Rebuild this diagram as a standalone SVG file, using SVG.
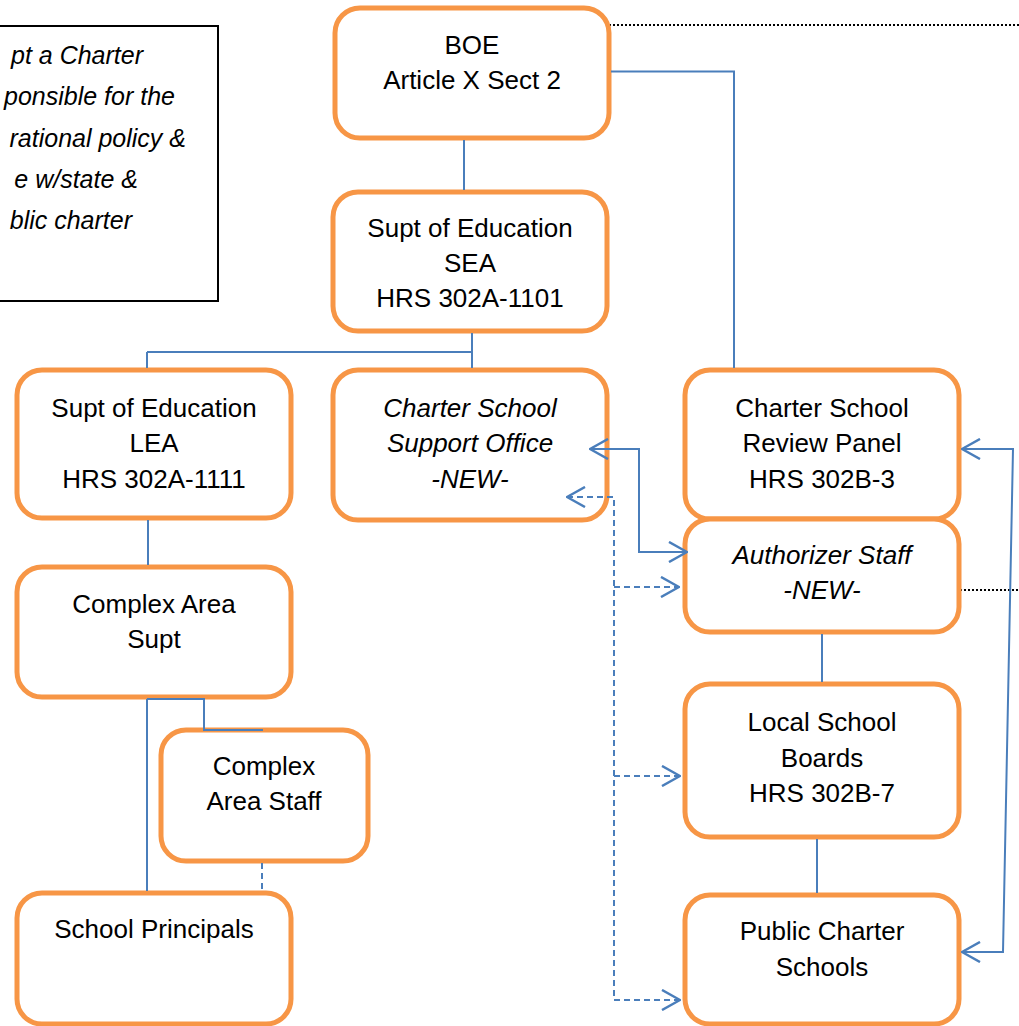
<svg xmlns="http://www.w3.org/2000/svg" width="1019" height="1026" viewBox="0 0 1019 1026">
<style>
.box{fill:#fff;stroke:#F79646;stroke-width:5}
.t{font-family:"Liberation Sans",Arial,sans-serif;font-size:26px;fill:#000;text-anchor:middle}
.i{font-style:italic}
.c{fill:none;stroke:#4A7EBB;stroke-width:2}
.d{fill:none;stroke:#4A7EBB;stroke-width:2;stroke-dasharray:6,4}
.dot{fill:none;stroke:#000;stroke-width:2;stroke-dasharray:2,2}
.note{font-family:"Liberation Sans",Arial,sans-serif;font-size:25px;font-style:italic;fill:#000;text-anchor:end}
</style>
<defs>
<marker id="ah" viewBox="0 0 20 22" refX="19" refY="11" markerWidth="20" markerHeight="22" markerUnits="userSpaceOnUse" orient="auto-start-reverse">
<path d="M1,1 L19,11 L1,21" fill="none" stroke="#4A7EBB" stroke-width="2.5" stroke-dasharray="none"/>
</marker>
</defs>
<rect width="1019" height="1026" fill="#fff"/>

<g id="note">
<rect x="-4" y="26" width="222" height="275" fill="#fff" stroke="#000" stroke-width="2"/>
<text class="note" x="143" y="64">pt a Charter</text>
<text class="note" x="175" y="105">ponsible for the</text>
<text class="note" x="186" y="147">rational policy &amp;</text>
<text class="note" x="138" y="188">e w/state &amp;</text>
<text class="note" x="132" y="229">blic charter</text>
</g>

<g id="dotted">
<path class="dot" d="M609,25 H1019"/>
<path class="dot" d="M960,590 H1019"/>
</g>

<g id="boe">
<rect class="box" x="335" y="8" width="274" height="130" rx="25"/>
<text class="t" x="472" y="54">BOE</text>
<text class="t" x="472" y="89">Article X Sect 2</text>
</g>
<g id="sea">
<rect class="box" x="333" y="192" width="274" height="139" rx="25"/>
<text class="t" x="470" y="237">Supt of Education</text>
<text class="t" x="470" y="272">SEA</text>
<text class="t" x="470" y="307">HRS 302A-1101</text>
</g>
<g id="lea">
<rect class="box" x="17" y="370" width="274" height="148" rx="25"/>
<text class="t" x="154" y="417">Supt of Education</text>
<text class="t" x="154" y="452">LEA</text>
<text class="t" x="154" y="488">HRS 302A-1111</text>
</g>
<g id="csso">
<rect class="box" x="333" y="370" width="274" height="150" rx="25"/>
<text class="t i" x="470" y="417">Charter School</text>
<text class="t i" x="470" y="452">Support Office</text>
<text class="t i" x="470" y="488">-NEW-</text>
</g>
<g id="review">
<rect class="box" x="685" y="370" width="274" height="149" rx="25"/>
<text class="t" x="822" y="417">Charter School</text>
<text class="t" x="822" y="452">Review Panel</text>
<text class="t" x="822" y="488">HRS 302B-3</text>
</g>
<g id="authorizer">
<rect class="box" x="685" y="519" width="274" height="113" rx="25"/>
<text class="t i" x="822" y="564">Authorizer Staff</text>
<text class="t i" x="822" y="599">-NEW-</text>
</g>
<g id="casupt">
<rect class="box" x="17" y="567" width="274" height="130" rx="25"/>
<text class="t" x="154" y="613">Complex Area</text>
<text class="t" x="154" y="648">Supt</text>
</g>
<g id="castaff">
<rect class="box" x="161" y="730" width="207" height="131" rx="25"/>
<text class="t" x="264" y="775">Complex</text>
<text class="t" x="264" y="810">Area Staff</text>
</g>
<g id="principals">
<rect class="box" x="17" y="893" width="274" height="131" rx="25"/>
<text class="t" x="154" y="938">School Principals</text>
</g>
<g id="lsb">
<rect class="box" x="685" y="684" width="274" height="153" rx="25"/>
<text class="t" x="822" y="731">Local School</text>
<text class="t" x="822" y="767">Boards</text>
<text class="t" x="822" y="802">HRS 302B-7</text>
</g>
<g id="pcs">
<rect class="box" x="685" y="895" width="274" height="129" rx="25"/>
<text class="t" x="822" y="940">Public Charter</text>
<text class="t" x="822" y="976">Schools</text>
</g>

<g id="connectors">
<path class="c" d="M464,140 V190"/>
<path class="c" d="M611,71.5 H734 V368"/>
<path class="c" d="M472,333 V368 M147,352 H472 M147,352 V368"/>
<path class="c" d="M148,520 V565"/>
<path class="c" d="M147,699 V891 M147,699 H204 V730 H263"/>
<path class="d" d="M262,863 V891"/>
<path class="c" d="M822,634 V682"/>
<path class="c" d="M817,839 V893"/>
<path class="c" d="M590,449 H639 V552 H687" marker-start="url(#ah)" marker-end="url(#ah)"/>
<path class="d" d="M567,497 H614 V1000 H680" marker-start="url(#ah)" marker-end="url(#ah)"/>
<path class="d" d="M614,587 H679" marker-end="url(#ah)"/>
<path class="d" d="M614,776 H680" marker-end="url(#ah)"/>
<path class="c" d="M962,449 H1013 L1003,952 H962" marker-start="url(#ah)" marker-end="url(#ah)"/>
</g>
</svg>
